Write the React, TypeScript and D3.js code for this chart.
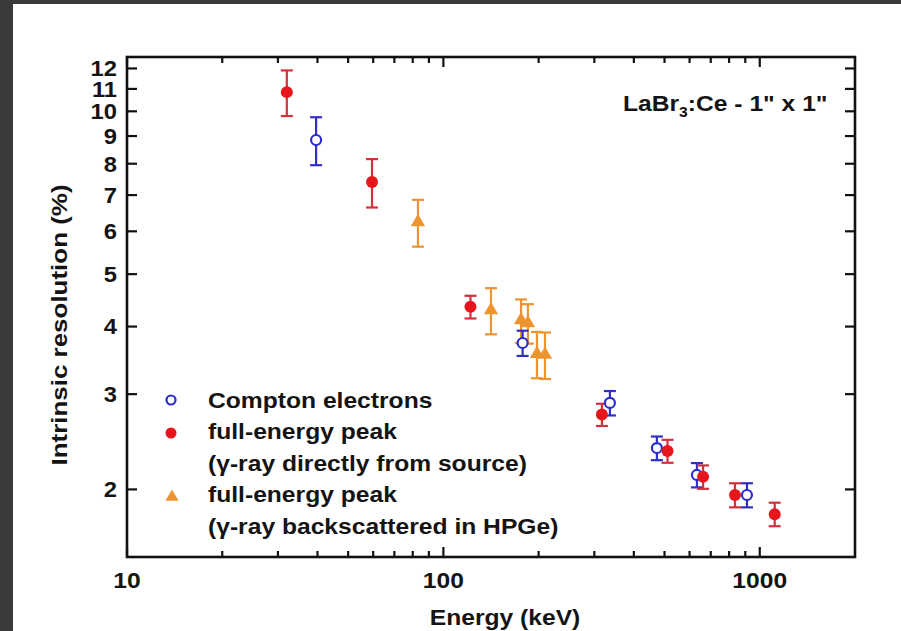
import React from "react";
import * as d3 from "d3";

// Compton electrons (open blue circles): energy (keV), resolution (%), error (%)
const comptonEnergy = [39.6, 178, 336, 473, 633, 911];
const comptonRes = [8.85, 3.73, 2.89, 2.385, 2.127, 1.953];
const comptonErr = [0.9, 0.2, 0.15, 0.12, 0.11, 0.1];

// Full-energy peak, gamma-ray directly from source (filled red circles)
const directEnergy = [32.0, 59.5, 121.8, 317, 511, 662, 835, 1115];
const directRes = [10.85, 7.4, 4.35, 2.75, 2.355, 2.11, 1.953, 1.8];
const directErr = [1.05, 0.76, 0.21, 0.13, 0.115, 0.105, 0.1, 0.09];

// Full-energy peak, gamma-ray backscattered in HPGe (orange triangles)
const backEnergy = [83.1, 141.4, 176, 185, 197.6, 209.5];
const backRes = [6.24, 4.29, 4.11, 4.06, 3.56, 3.55];
const backErr = [0.62, 0.42, 0.38, 0.34, 0.35, 0.35];

const xTickLabels = [10, 100, 1000];
const yTickLabels = [2, 3, 4, 5, 6, 7, 8, 9, 10, 11, 12];

const legendLabels = [
  "Compton electrons",
  "full-energy peak",
  "(\u03b3-ray directly from source)",
  "full-energy peak",
  "(\u03b3-ray backscattered in HPGe)",
];

const W = 901;
const H = 631;
const margin = { left: 127, right: 855, top: 57, bottom: 557 };

const BLUE = "#2b2bd6";
const BLUE_BAR = "#3030c4";
const RED = "#e8161c";
const RED_BAR = "#d4303c";
const ORANGE = "#ec9530";
const FONT = "'Liberation Sans', Arial, Helvetica, sans-serif";
const INK = "#141414";
// the lettering is set a little wider than the plain face
const SX = 1.12;

type TProps = {
  x: number;
  y: number;
  anchor?: "start" | "middle" | "end";
  size?: number;
  sx?: number;
  rotate?: number;
  dy?: string;
  children: React.ReactNode;
};

function Label({ x, y, anchor = "start", size = 22, sx = SX, rotate = 0, dy, children }: TProps) {
  return (
    <text
      transform={`translate(${x},${y}) rotate(${rotate}) scale(${sx},1)`}
      textAnchor={anchor}
      fontSize={size}
      fontWeight="bold"
      fill={INK}
      dy={dy}
    >
      {children}
    </text>
  );
}

export default function App() {
  const x = d3.scaleLog().domain([10, 2000]).range([margin.left, margin.right]);
  const y = d3.scaleLog().domain([1.5, 12.6]).range([margin.bottom, margin.top]);

  const xMinor: number[] = [];
  for (const dec of [10, 100, 1000]) {
    for (let k = 2; k <= 9; k++) {
      const v = dec * k;
      if (v < 2000) xMinor.push(v);
    }
  }

  const triangle = d3.symbol().type(d3.symbolTriangle).size(88)() as string;
  const legendTriangle = d3.symbol().type(d3.symbolTriangle).size(75)() as string;

  const errBar = (ex: number, val: number, err: number, color: string, key: string) => {
    const cx = x(ex);
    const yt = y(val + err);
    const yb = y(val - err);
    return (
      <g key={key} stroke={color} strokeWidth={2.2} fill="none">
        <line x1={cx} x2={cx} y1={yt} y2={yb} />
        <line x1={cx - 6} x2={cx + 6} y1={yt} y2={yt} />
        <line x1={cx - 6} x2={cx + 6} y1={yb} y2={yb} />
      </g>
    );
  };

  return (
    <div style={{ position: "fixed", left: 0, top: 0 }}>
      <svg width={W} height={H} style={{ display: "block" }} fontFamily={FONT}>
        <rect x={0} y={0} width={W} height={H} fill="#ffffff" />
        <rect x={0} y={0} width={W} height={4} fill="#3a3a3a" />
        <rect x={0} y={0} width={13} height={H} fill="#3a3a3a" />

        {/* axis frame */}
        <rect
          x={margin.left}
          y={margin.top}
          width={margin.right - margin.left}
          height={margin.bottom - margin.top}
          fill="none"
          stroke="#111"
          strokeWidth={2.6}
        />

        {/* ticks point inward on all four sides */}
        <g stroke="#111" strokeWidth={2.2}>
          {xTickLabels.map((v) => (
            <g key={"xM" + v}>
              <line x1={x(v)} x2={x(v)} y1={margin.bottom} y2={margin.bottom - 10} />
              <line x1={x(v)} x2={x(v)} y1={margin.top} y2={margin.top + 10} />
            </g>
          ))}
          {xMinor.map((v) => (
            <g key={"xm" + v}>
              <line x1={x(v)} x2={x(v)} y1={margin.bottom} y2={margin.bottom - 6} />
              <line x1={x(v)} x2={x(v)} y1={margin.top} y2={margin.top + 6} />
            </g>
          ))}
          {yTickLabels.map((v) => (
            <g key={"y" + v}>
              <line x1={margin.left} x2={margin.left + 10} y1={y(v)} y2={y(v)} />
              <line x1={margin.right} x2={margin.right - 10} y1={y(v)} y2={y(v)} />
            </g>
          ))}
        </g>

        {/* tick labels */}
        {xTickLabels.map((v) => (
          <Label key={"xl" + v} x={x(v)} y={588} anchor="middle">
            {v}
          </Label>
        ))}
        {yTickLabels.map((v) => (
          <Label key={"yl" + v} x={117} y={y(v)} anchor="end" dy="0.36em" sx={1.08}>
            {v}
          </Label>
        ))}

        {/* axis titles */}
        <Label x={505} y={625} anchor="middle">
          Energy (keV)
        </Label>
        <Label x={67} y={325} anchor="middle" rotate={-90} sx={1.18}>
          Intrinsic resolution (%)
        </Label>

        {/* crystal annotation */}
        <Label x={623} y={111}>
          LaBr
          <tspan fontSize={14} dy={6}>3</tspan>
          <tspan dy={-6}>:Ce - 1" x 1"</tspan>
        </Label>

        {/* error bars */}
        {backEnergy.map((e, i) => errBar(e, backRes[i], backErr[i], ORANGE, "be" + i))}
        {comptonEnergy.map((e, i) => errBar(e, comptonRes[i], comptonErr[i], BLUE_BAR, "ce" + i))}
        {directEnergy.map((e, i) => errBar(e, directRes[i], directErr[i], RED_BAR, "de" + i))}

        {/* markers */}
        {backEnergy.map((e, i) => (
          <path
            key={"bm" + i}
            d={triangle}
            transform={`translate(${x(e)},${y(backRes[i])})`}
            fill={ORANGE}
          />
        ))}
        {comptonEnergy.map((e, i) => (
          <circle
            key={"cm" + i}
            cx={x(e)}
            cy={y(comptonRes[i])}
            r={5}
            fill="#fff"
            stroke={BLUE}
            strokeWidth={2.2}
          />
        ))}
        {directEnergy.map((e, i) => (
          <circle key={"dm" + i} cx={x(e)} cy={y(directRes[i])} r={6} fill={RED} />
        ))}

        {/* legend */}
        <circle cx={171} cy={400} r={4.5} fill="#fff" stroke={BLUE} strokeWidth={2.2} />
        <circle cx={171} cy={433} r={5.5} fill={RED} />
        <path d={legendTriangle} transform="translate(172,497)" fill={ORANGE} />
        {legendLabels.map((t, i) => (
          <Label key={"lg" + i} x={208} y={408 + i * 31.4}>
            {t}
          </Label>
        ))}
      </svg>
    </div>
  );
}
